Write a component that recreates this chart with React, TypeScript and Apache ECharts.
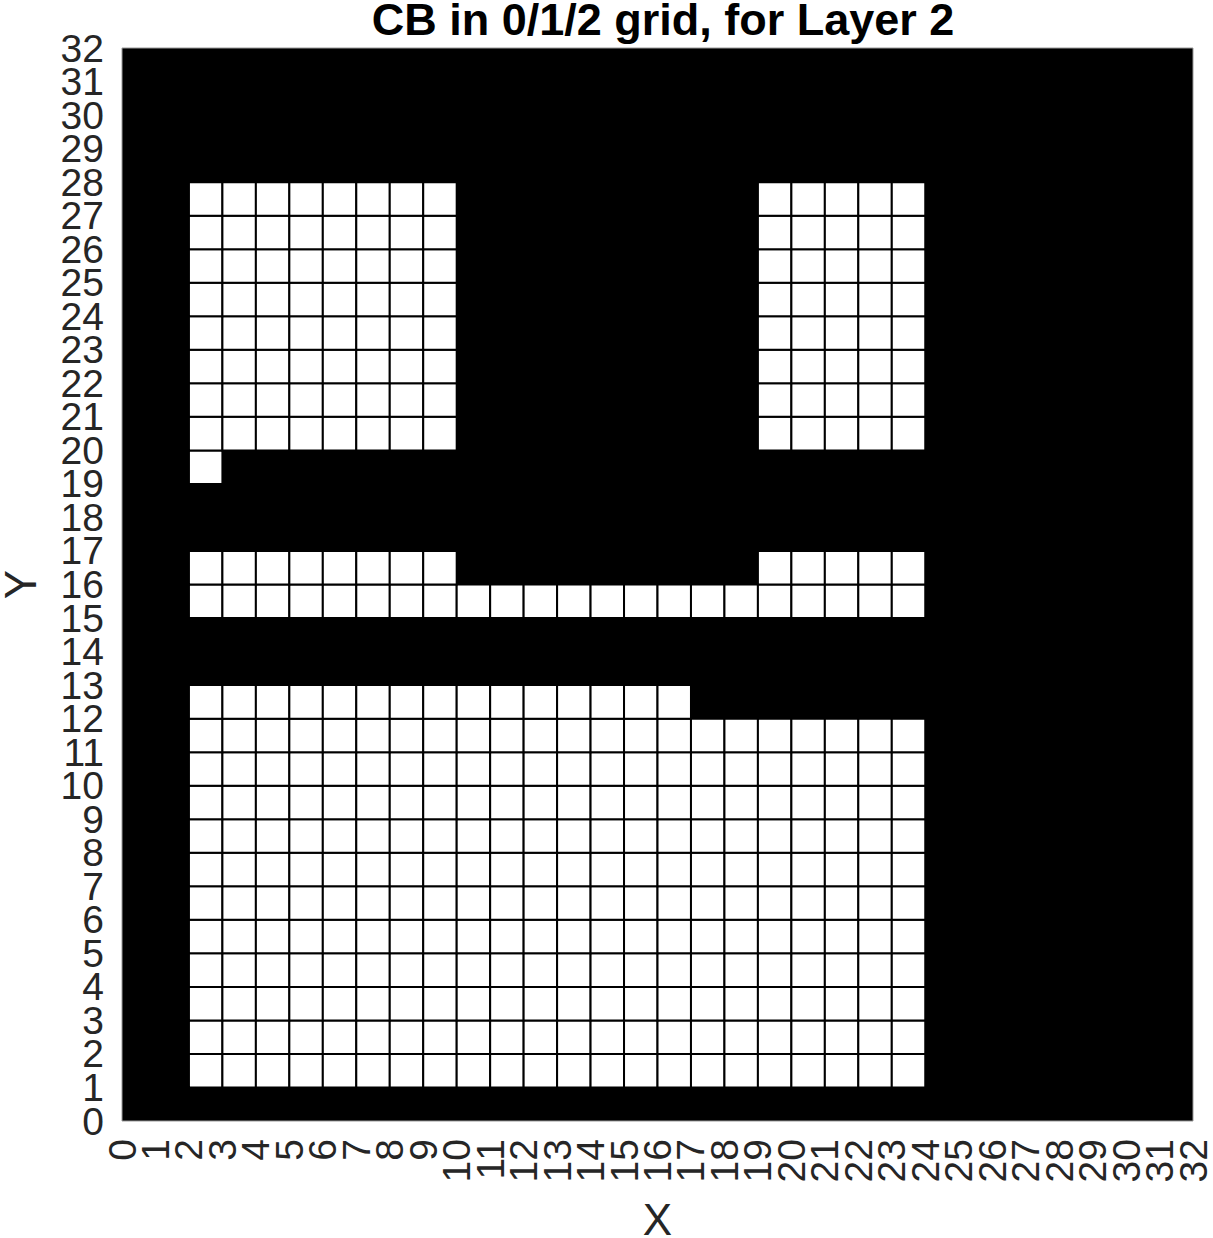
import React, { useEffect, useRef } from "react";
import * as echarts from "echarts";

// White cells of the 0/1/2 grid, as horizontal runs: [row y, first x, last x] (cell lower-left corners)
const whiteRuns: number[][] = [
  [1, 2, 23],
  [2, 2, 23],
  [3, 2, 23],
  [4, 2, 23],
  [5, 2, 23],
  [6, 2, 23],
  [7, 2, 23],
  [8, 2, 23],
  [9, 2, 23],
  [10, 2, 23],
  [11, 2, 23],
  [12, 2, 16],
  [15, 2, 23],
  [16, 2, 9],
  [16, 19, 23],
  [19, 2, 2],
  [20, 2, 9],
  [20, 19, 23],
  [21, 2, 9],
  [21, 19, 23],
  [22, 2, 9],
  [22, 19, 23],
  [23, 2, 9],
  [23, 19, 23],
  [24, 2, 9],
  [24, 19, 23],
  [25, 2, 9],
  [25, 19, 23],
  [26, 2, 9],
  [26, 19, 23],
  [27, 2, 9],
  [27, 19, 23],
];

// Tick labels 0..32 on both axes
const tickLabels: string[] = [
  "0", "1", "2", "3", "4", "5", "6", "7", "8", "9", "10",
  "11", "12", "13", "14", "15", "16", "17", "18", "19", "20",
  "21", "22", "23", "24", "25", "26", "27", "28", "29", "30",
  "31", "32",
];

const titleText = "CB in 0/1/2 grid, for Layer 2";
const xName = "X";
const yName = "Y";

const FONT = "'Liberation Sans', Arial, Helvetica, sans-serif";

export default function App() {
  const ref = useRef<HTMLDivElement>(null);
  useEffect(() => {
    if (!ref.current) return;
    const chart = echarts.init(ref.current, undefined, { renderer: "svg" });
    const cells: number[][] = [];
    whiteRuns.forEach(([y, x0, x1]) => {
      for (let x = x0; x <= x1; x++) cells.push([x, y]);
    });
    const labelStyle = {
      interval: 0,
      fontFamily: FONT,
      fontSize: 39,
      lineHeight: 28,
      color: "#262626",
      hideOverlap: false,
    };
    chart.setOption({
      animation: false,
      backgroundColor: "#fff",
      title: {
        text: titleText,
        left: 658,
        textAlign: "center",
        top: -8,
        textStyle: {
          fontFamily: FONT,
          fontSize: 45,
          lineHeight: 45,
          fontWeight: "bold",
          color: "#000",
        },
      },
      grid: {
        left: 122,
        top: 48,
        width: 1071,
        height: 1073,
        show: true,
        backgroundColor: "#000",
        borderColor: "#999",
        borderWidth: 1,
        containLabel: false,
        outerBoundsMode: "none",
      },
      xAxis: {
        type: "category",
        data: tickLabels,
        boundaryGap: false,
        name: xName,
        nameLocation: "middle",
        nameGap: 80,
        nameTextStyle: { fontFamily: FONT, fontSize: 44, lineHeight: 36, color: "#262626" },
        axisLine: { show: false },
        axisTick: { show: false },
        splitLine: { show: false },
        axisLabel: { ...labelStyle, rotate: 90, margin: 18 },
      },
      yAxis: {
        type: "category",
        data: tickLabels,
        boundaryGap: false,
        name: yName,
        nameLocation: "middle",
        nameGap: 84,
        nameTextStyle: { fontFamily: FONT, fontSize: 44, lineHeight: 36, color: "#262626" },
        axisLine: { show: false },
        axisTick: { show: false },
        splitLine: { show: false },
        axisLabel: { ...labelStyle, margin: 18 },
      },
      series: [
        {
          type: "custom",
          data: cells,
          encode: { x: 0, y: 1 },
          renderItem: (params: any, api: any) => {
            const x = api.value(0);
            const y = api.value(1);
            const p0 = api.coord([x, y + 1]);
            const p1 = api.coord([x + 1, y]);
            return {
              type: "rect",
              shape: { x: p0[0], y: p0[1], width: p1[0] - p0[0], height: p1[1] - p0[1] },
              style: { fill: "#fff", stroke: "#000", lineWidth: 2 },
            };
          },
        },
      ],
    });
    return () => chart.dispose();
  }, []);
  return (
    <div
      ref={ref}
      style={{ position: "absolute", left: 0, top: 0, width: 1213, height: 1238 }}
    />
  );
}
